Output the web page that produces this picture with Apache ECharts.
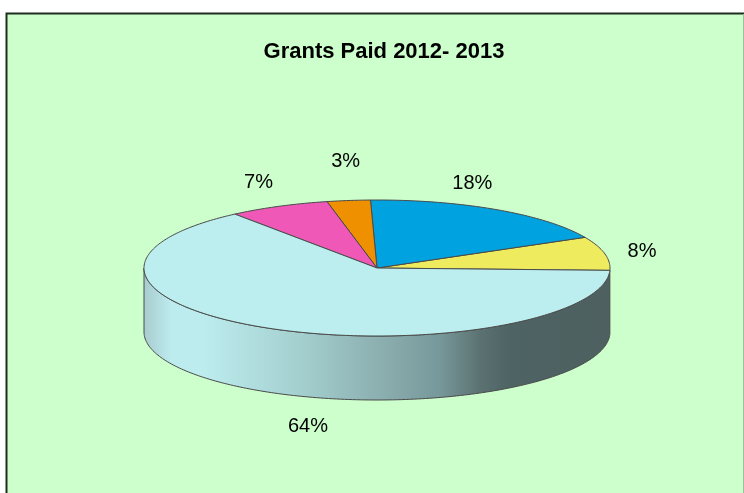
<!DOCTYPE html>
<html>
<head>
<meta charset="utf-8">
<style>
  html, body { margin: 0; padding: 0; background: #fff; }
  #chart { width: 744px; height: 493px; }
</style>
<script src="https://cdn.jsdelivr.net/npm/echarts@6/dist/echarts.min.js"></script>
</head>
<body>
<div id="chart"></div>
<script>
const categories = ['Grants A', 'Grants B', 'Grants C', 'Grants D', 'Grants E'];
const shares = [8, 18, 3, 7, 64];
const sliceColors = ['#EEEB5E', '#00A3E0', '#EE9000', '#F058B8', '#BCEEEF'];

// Tilted pie geometry
const CX = 377, CY = 268, RX = 233, RY = 68, DEPTH = 64;
const START_DEG = -2;
// Label nudges relative to the outer rim at each slice's middle angle
const labelNudge = [[37.5, -2], [-24, -26], [-3, -39], [-20, -24], [37.5, 98.5]];

const total = shares.reduce((a, b) => a + b, 0);

function rimPoint(deg, dy) {
  const r = deg * Math.PI / 180;
  return [CX + RX * Math.cos(r), CY - RY * Math.sin(r) + (dy || 0)];
}
function arcPoints(from, to, dy) {
  const pts = [];
  const n = Math.max(2, Math.ceil(Math.abs(to - from)));
  for (let i = 0; i <= n; i++) pts.push(rimPoint(from + (to - from) * i / n, dy));
  return pts;
}

// Shading of the side wall, dark toward the right
const wallFill = {
  type: 'linear', global: true, x: CX - RX, y: 0, x2: CX + RX, y2: 0,
  colorStops: [
    { offset: 0, color: '#A8CCCF' },
    { offset: 0.06, color: '#BDECEE' },
    { offset: 0.13, color: '#BCECEE' },
    { offset: 0.335, color: '#A4CFCF' },
    { offset: 0.506, color: '#8CAFB0' },
    { offset: 0.635, color: '#77989A' },
    { offset: 0.72, color: '#5C7272' },
    { offset: 0.785, color: '#4E6364' },
    { offset: 1, color: '#4E6060' }
  ]
};

function renderSlice(params, api) {
  const i = params.dataIndex;
  const before = shares.slice(0, i).reduce((a, b) => a + b, 0);
  const a0 = START_DEG + before / total * 360;
  const a1 = a0 + api.value(0) / total * 360;
  const stroke = { stroke: '#4A4A4A', lineWidth: 1 };
  const children = [];

  // Side wall: only the part of the slice on the near half of the rim
  [[180, 360], [540, 720]].forEach(function (range) {
    const w0 = Math.max(a0, range[0]);
    const w1 = Math.min(a1, range[1]);
    if (w1 > w0) {
      children.push({
        type: 'polygon',
        z2: 1,
        shape: { points: arcPoints(w0, w1, 0).concat(arcPoints(w1, w0, DEPTH)) },
        style: Object.assign({ fill: i === 4 ? wallFill : '#4E6060' }, stroke)
      });
    }
  });

  // Top face
  children.push({
    type: 'polygon',
    z2: 2,
    shape: { points: [[CX, CY]].concat(arcPoints(a0, a1, 0)) },
    style: Object.assign({ fill: sliceColors[i] }, stroke)
  });

  // Percentage label
  const mid = rimPoint((a0 + a1) / 2, 0);
  const nudge = labelNudge[i];
  children.push({
    type: 'text',
    z2: 3,
    style: {
      x: mid[0] + nudge[0],
      y: mid[1] + nudge[1],
      text: api.value(0) + '%',
      fill: '#000',
      font: '20px "Liberation Sans", Arial, sans-serif',
      align: 'center',
      verticalAlign: 'middle'
    }
  });
  return { type: 'group', children: children };
}

const chart = echarts.init(document.getElementById('chart'), null, { renderer: 'canvas' });
chart.setOption({
  animation: false,
  backgroundColor: '#FFFFFF',
  title: {
    text: 'Grants Paid 2012- 2013',
    left: 379,
    top: 36,
    textAlign: 'center',
    textStyle: { color: '#000', fontFamily: '"Liberation Sans", Arial, sans-serif', fontSize: 22, fontWeight: 'bold' }
  },
  graphic: [
    {
      type: 'rect',
      z: -1,
      shape: { x: 6, y: 13, width: 738, height: 480 },
      style: { fill: '#CCFFCC' }
    },
    {
      type: 'polyline',
      z: -1,
      shape: { points: [[6.5, 493], [6.5, 13.5], [744, 13.5]] },
      style: { fill: 'none', stroke: '#1E2E1E', lineWidth: 2 }
    },
    {
      type: 'line',
      z: -1,
      shape: { x1: 743.5, y1: 14, x2: 743.5, y2: 493 },
      style: { stroke: '#9DBF9D', lineWidth: 1 }
    }
  ],
  series: [{
    type: 'custom',
    coordinateSystem: 'none',
    renderItem: renderSlice,
    data: shares.map(function (v, i) { return { name: categories[i], value: [v] }; }),
    encode: { value: 0 }
  }]
});
</script>
</body>
</html>
